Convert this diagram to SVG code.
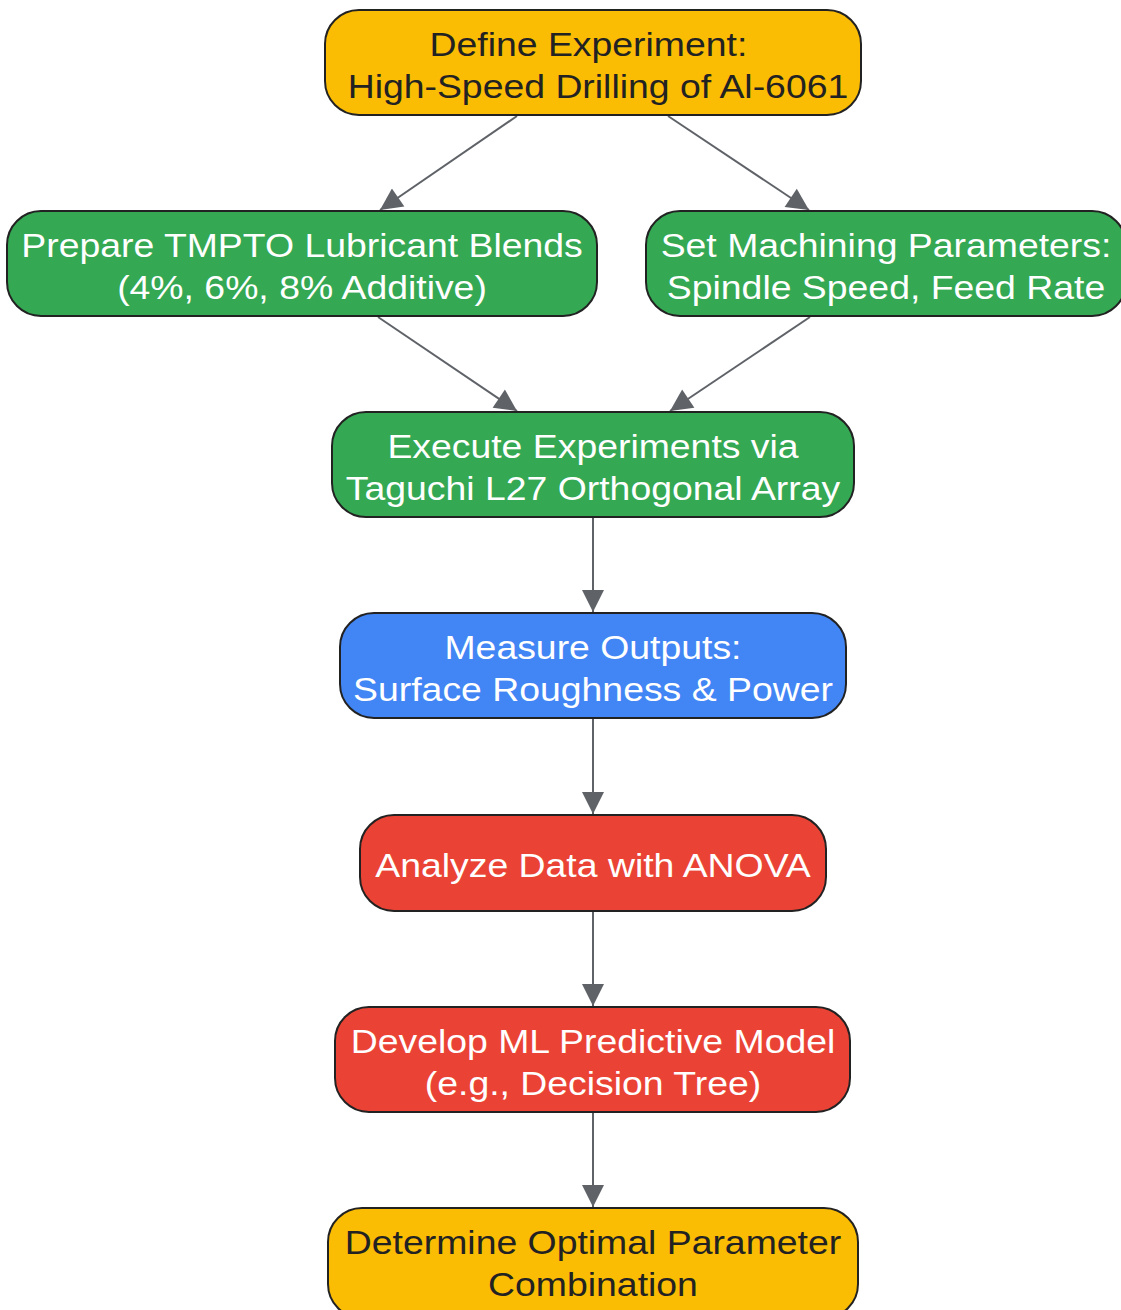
<svg xmlns="http://www.w3.org/2000/svg" width="1121" height="1310" viewBox="0 0 1121 1310">
<style>
.n{stroke:#222;stroke-width:2}
.y{fill:#FBBC04}.g{fill:#34A853}.b{fill:#4285F4}.r{fill:#EA4335}
text{font-family:"Liberation Sans",Arial,sans-serif;font-size:32.5px;text-anchor:middle}
.dk{fill:#222}.wt{fill:#fff}
.e{stroke:#5F6368;stroke-width:2;fill:none;marker-end:url(#ah)}
</style>
<defs>
<marker id="ah" viewBox="0 0 10 10" refX="10" refY="5" markerUnits="userSpaceOnUse" markerWidth="29" markerHeight="22" orient="auto">
<path d="M0,0 L10,5 L0,10 z" fill="#5F6368"/>
</marker>
</defs>
<rect width="1121" height="1310" fill="#fff"/>
<g id="edges">
<line class="e" x1="517" y1="116" x2="380" y2="210"/>
<line class="e" x1="668" y1="116" x2="809" y2="210"/>
<line class="e" x1="378" y1="317" x2="517" y2="411"/>
<line class="e" x1="810" y1="317" x2="670" y2="411"/>
<line class="e" x1="593" y1="518" x2="593" y2="612"/>
<line class="e" x1="593" y1="719" x2="593" y2="814"/>
<line class="e" x1="593" y1="911" x2="593" y2="1006"/>
<line class="e" x1="593" y1="1113" x2="593" y2="1207"/>
</g>
<g id="n1"><rect class="n y" x="325" y="10" width="536" height="105" rx="34"/><g transform="translate(593 0) scale(1.15 1)"><text class="dk" x="-4" y="56">Define Experiment:</text><text class="dk" x="4.3" y="98">High-Speed Drilling of Al-6061</text></g></g>
<g id="n2"><rect class="n g" x="7" y="211" width="590" height="105" rx="34"/><g transform="translate(302 0) scale(1.15 1)"><text class="wt" x="0" y="257">Prepare TMPTO Lubricant Blends</text><text class="wt" x="0" y="299">(4%, 6%, 8% Additive)</text></g></g>
<g id="n3"><rect class="n g" x="646" y="211" width="480" height="105" rx="34"/><g transform="translate(886 0) scale(1.15 1)"><text class="wt" x="0" y="257">Set Machining Parameters:</text><text class="wt" x="0" y="299">Spindle Speed, Feed Rate</text></g></g>
<g id="n4"><rect class="n g" x="332" y="412" width="522" height="105" rx="34"/><g transform="translate(593 0) scale(1.15 1)"><text class="wt" x="0" y="458">Execute Experiments via</text><text class="wt" x="0" y="500">Taguchi L27 Orthogonal Array</text></g></g>
<g id="n5"><rect class="n b" x="340" y="613" width="506" height="105" rx="34"/><g transform="translate(593 0) scale(1.15 1)"><text class="wt" x="0" y="659">Measure Outputs:</text><text class="wt" x="0" y="701">Surface Roughness &amp; Power</text></g></g>
<g id="n6"><rect class="n r" x="360" y="815" width="466" height="96" rx="34"/><g transform="translate(593 0) scale(1.15 1)"><text class="wt" x="0" y="877">Analyze Data with ANOVA</text></g></g>
<g id="n7"><rect class="n r" x="335" y="1007" width="515" height="105" rx="34"/><g transform="translate(593 0) scale(1.15 1)"><text class="wt" x="0" y="1053">Develop ML Predictive Model</text><text class="wt" x="0" y="1095">(e.g., Decision Tree)</text></g></g>
<g id="n8"><rect class="n y" x="328" y="1208" width="530" height="110" rx="34"/><g transform="translate(593 0) scale(1.15 1)"><text class="dk" x="0" y="1254">Determine Optimal Parameter</text><text class="dk" x="0" y="1296">Combination</text></g></g>
</svg>
